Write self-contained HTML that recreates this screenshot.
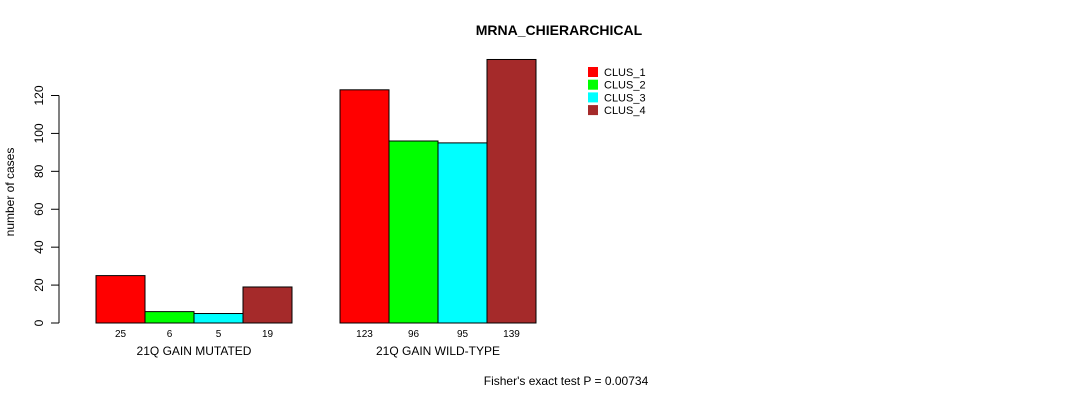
<!DOCTYPE html>
<html><head><meta charset="utf-8"><style>
body{margin:0;background:#fff;}
svg{font-family:"Liberation Sans",sans-serif;}
</style></head><body>
<svg id="c" width="1090" height="400" xmlns="http://www.w3.org/2000/svg">
<text x="559" y="35" text-anchor="middle" font-size="14" font-weight="bold">MRNA_CHIERARCHICAL</text>
<text transform="translate(14,192) rotate(-90)" text-anchor="middle" font-size="12">number of cases</text>
<text x="566" y="385" text-anchor="middle" font-size="12">Fisher's exact test P = 0.00734</text>
<g id="axis"></g><g id="bars"></g><g id="legend"></g>
</svg>
<script>
const groups=["21Q GAIN MUTATED","21Q GAIN WILD-TYPE"];
const series=["CLUS_1","CLUS_2","CLUS_3","CLUS_4"];
const colors=["#ff0000","#00ff00","#00ffff","#a52a2a"];
const valuesMutated=[25,6,5,19];
const valuesWild=[123,96,95,139];
const ticks=[0,20,40,60,80,100,120];
const NS="http://www.w3.org/2000/svg";
const y0=323,pxPer=(323-95.5)/120;
const y=v=>y0-v*pxPer;
const groupLeft=[96,340],bw=49;
function mk(t,a,p){const e=document.createElementNS(NS,t);for(const k in a)e.setAttribute(k,a[k]);p.appendChild(e);return e;}
const ax=document.getElementById('axis');
mk('line',{x1:59,x2:59,y1:y(0),y2:y(120),stroke:'#000'},ax);
ticks.forEach(t=>{
 const l=mk('line',{x1:51,x2:59,y1:y(t),y2:y(t),stroke:'#000'},ax);
 
 
 const tx=mk('text',{transform:`translate(43,${y(t)}) rotate(-90)`,'text-anchor':'middle','font-size':12},ax);
 tx.textContent=t;
 
 
});
const bg=document.getElementById('bars');
[valuesMutated,valuesWild].forEach((vals,g)=>{
 vals.forEach((v,i)=>{
  const x=groupLeft[g]+i*bw;
  const r=mk('rect',{x:x,y:y(v),width:bw,height:y(0)-y(v),fill:colors[i],stroke:'#000','stroke-width':1},bg);
  
  
  const t=mk('text',{x:x+bw/2,y:337,'text-anchor':'middle','font-size':10},bg);
  t.textContent=v;
  
  
 });
 const gl=mk('text',{x:groupLeft[g]+2*bw,y:355,'text-anchor':'middle','font-size':12},bg);
 gl.textContent=groups[g];
 
 
});
const lg=document.getElementById('legend');
series.forEach((s,i)=>{
 const yy=67+i*12.7;
 const r=mk('rect',{x:588,y:yy,width:10,height:10,fill:colors[i]},lg);
 
 
 const t=mk('text',{x:604,y:yy+9,'font-size':11},lg);
 t.textContent=s;
 
 
});
</script>
</body></html>
